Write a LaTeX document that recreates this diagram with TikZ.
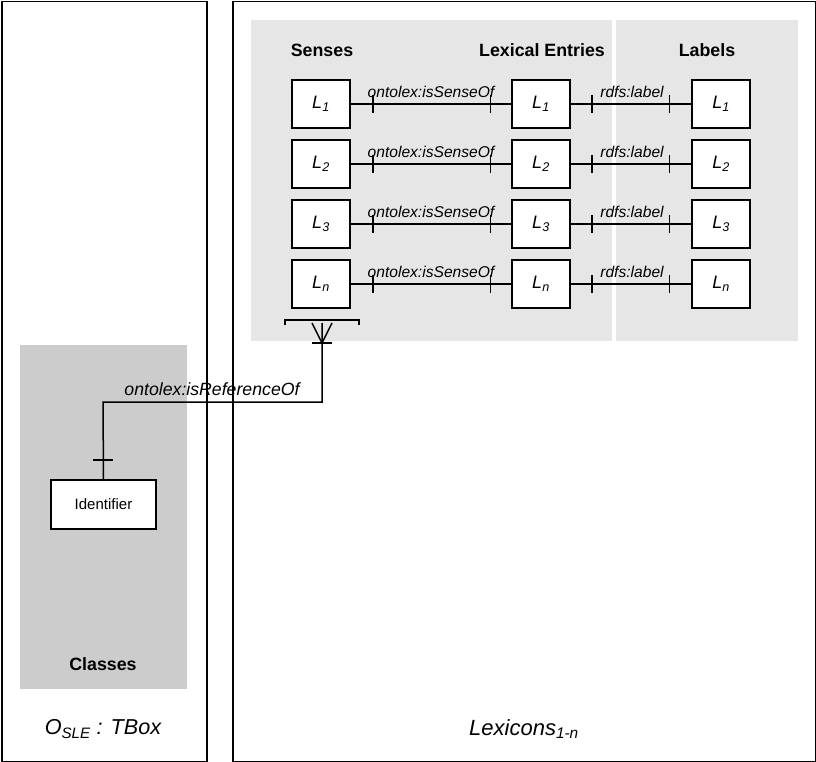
\documentclass[tikz,border=0pt]{standalone}
\usepackage{fontspec}
\setmainfont{Liberation Sans}
\usetikzlibrary{calc}
\definecolor{panelA}{HTML}{CCCCCC}
\definecolor{panelB}{HTML}{E6E6E6}
\begin{document}
\begin{tikzpicture}[x=1pt,y=-1pt,
  line width=1.5pt,
  entity/.style={draw=black,fill=white,minimum width=58pt,minimum height=48pt,inner sep=0pt,font=\fontsize{18}{20}\selectfont\itshape},
  head/.style={font=\fontsize{17.8}{20}\selectfont\bfseries},
  rel/.style={font=\fontsize{15.6}{17}\selectfont\itshape},
  conn/.style={draw=black,line width=1.5pt}]
\useasboundingbox (0,0) rectangle (816,762);
% outer frames
\node[draw,line width=1.5pt,minimum width=205pt,minimum height=760pt,inner sep=0pt,anchor=north west] (tbox) at (1,1) {};
\node[draw,line width=1.5pt,minimum width=583pt,minimum height=760pt,inner sep=0pt,anchor=north west] (lex) at (232,1) {};
% panels
\fill[panelA] (20,345) rectangle (187,689);
\fill[panelB] (251,20) rectangle (612,341);
\fill[panelB] (616,20) rectangle (798,341);
% titles
\node[font=\fontsize{21.6}{24}\selectfont\itshape] (tboxlab) at (103,729) {O\textsubscript{SLE} : TBox};
\node[font=\fontsize{22}{24}\selectfont\itshape] (lexlab) at (524,729) {Lexicons\textsubscript{1-n}};
\node[head] (classes) at (103,664) {Classes};
\node[head] (hs) at (322,50) {Senses};
\node[head] (hl) at (542,50) {Lexical Entries};
\node[head] (hb) at (707,50) {Labels};
% rows
\foreach \i/\sub in {1/1,2/2,3/3,4/n}{
  \pgfmathsetmacro{\yy}{44+60*\i}
  \node[entity] (s\i) at (321,\yy) {L\textsubscript{\sub}};
  \node[entity] (e\i) at (541,\yy) {L\textsubscript{\sub}};
  \node[entity] (b\i) at (721,\yy) {L\textsubscript{\sub}};
  \draw[conn] (s\i.east) -- (e\i.west);
  \draw[conn] ([xshift=22pt]s\i.east) ++(0,-9) -- ++(0,18);
  \draw[conn] ([xshift=-21pt]e\i.west) ++(0,-9) -- ++(0,18);
  \node[rel] (r\i) at (431,\yy-12) {ontolex:isSenseOf};
  \draw[conn] (e\i.east) -- (b\i.west);
  \draw[conn] ([xshift=21pt]e\i.east) ++(0,-9) -- ++(0,18);
  \draw[conn] ([xshift=-22pt]b\i.west) ++(0,-9) -- ++(0,18);
  \node[rel] (l\i) at (632,\yy-12) {rdfs:label};
}
% bracket under senses
\coordinate (br) at (322,320);
\draw[conn] (285,325) -- (285,320) -- (359,320) -- (359,325);
% identifier
\node[draw,fill=white,line width=1.5pt,minimum width=105pt,minimum height=49pt,inner sep=0pt,font=\fontsize{15}{17}\selectfont] (id) at (103.5,504.5) {Identifier};
\coordinate (foot) at (322,343);
\draw[conn] (id.north) -- (103,402) -- (322,402) -- (322,323);
\draw[conn] (312,323) -- (foot) -- (332,323);
\draw[conn] (312,343) -- (332,343);
\draw[conn] (93,460) -- (113,460);
\node[rel,font=\fontsize{17.7}{20}\selectfont\itshape] (refl) at (212,389) {ontolex:isReferenceOf};
\end{tikzpicture}
\end{document}
